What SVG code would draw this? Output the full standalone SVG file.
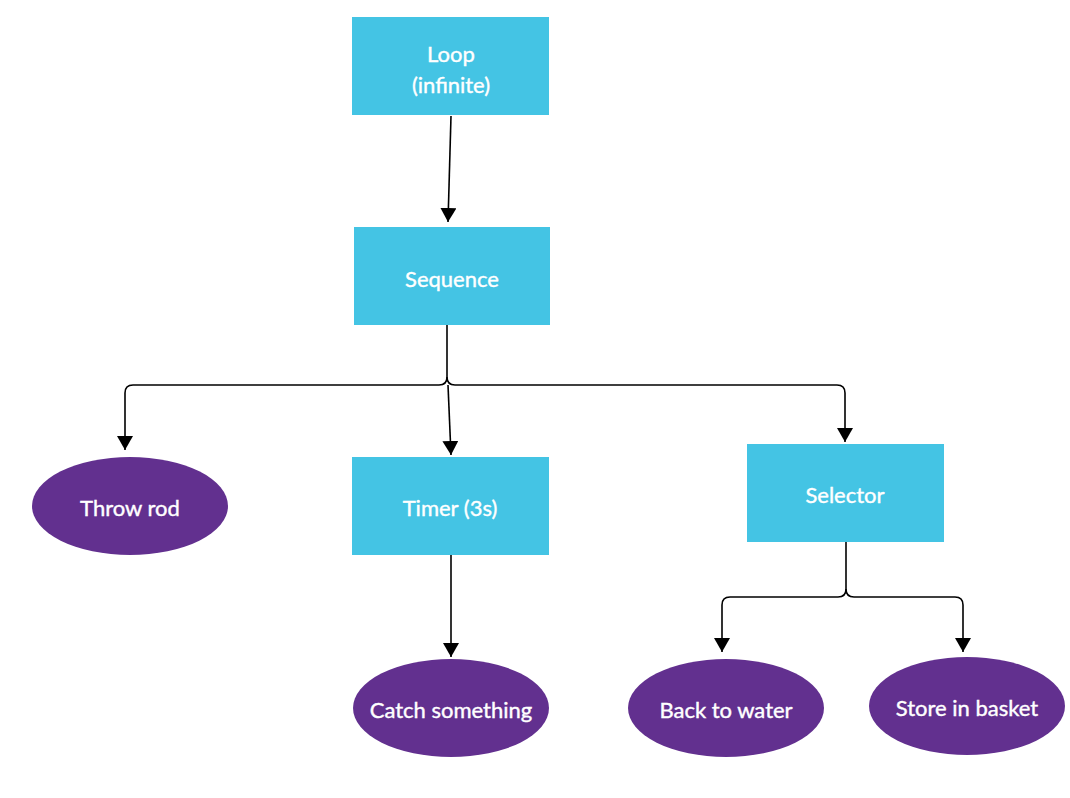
<svg xmlns="http://www.w3.org/2000/svg" width="1070" height="798" viewBox="0 0 1070 798">
<style>
.box{fill:#44c4e4}
.oval{fill:#62308f}
.t{font-family:Lato,"Open Sans",sans-serif;font-size:22px;fill:#ffffff;stroke:#ffffff;stroke-width:0.4;text-anchor:middle;dominant-baseline:central}
.c{fill:none;stroke:#000;stroke-width:1.6;marker-end:url(#ah)}
.n{fill:none;stroke:#000;stroke-width:1.6}
</style>
<defs>
<marker id="ah" markerUnits="userSpaceOnUse" markerWidth="16" markerHeight="16" viewBox="0 0 16 16" refX="14" refY="8" orient="auto">
<path d="M0,0 L14,8 L0,16 Z" fill="#000"/>
</marker>
</defs>
<rect width="1070" height="798" fill="#fff"/>
<g id="connectors">
<path class="c" d="M451,116 L448,222"/>
<path class="n" d="M447,321 L447,377"/>
<path class="c" d="M447,377 Q447,385 439,385 L133,385 Q125,385 125,393 L125,450"/>
<path class="c" d="M447,377 Q447,385 455,385 L837,385 Q845,385 845,393 L845,442"/>
<path class="c" d="M448,385 L451,455"/>
<path class="c" d="M451,555 L451,657"/>
<path class="n" d="M846,542 L846,589"/>
<path class="c" d="M846,589 Q846,597 838,597 L730,597 Q722,597 722,605 L722,652"/>
<path class="c" d="M846,589 Q846,597 854,597 L955,597 Q963,597 963,605 L963,652"/>
</g>
<g id="loop"><rect class="box" x="352" y="17" width="197" height="98"/><text class="t" x="451" y="53">Loop</text><text class="t" x="451" y="84">(infinite)</text></g>
<g id="sequence"><rect class="box" x="354" y="227" width="196" height="98"/><text class="t" x="452" y="278">Sequence</text></g>
<g id="throw-rod"><ellipse class="oval" cx="130" cy="506" rx="98" ry="49"/><text class="t" x="130" y="507">Throw rod</text></g>
<g id="timer"><rect class="box" x="352" y="457" width="197" height="98"/><text class="t" x="450" y="507">Timer (3s)</text></g>
<g id="selector"><rect class="box" x="747" y="444" width="197" height="98"/><text class="t" x="845" y="494">Selector</text></g>
<g id="catch"><ellipse class="oval" cx="451" cy="708" rx="98" ry="49"/><text class="t" x="451" y="709">Catch something</text></g>
<g id="back"><ellipse class="oval" cx="726" cy="708" rx="98" ry="49"/><text class="t" x="726" y="709">Back to water</text></g>
<g id="store"><ellipse class="oval" cx="967" cy="706" rx="98" ry="49"/><text class="t" x="967" y="707">Store in basket</text></g>
</svg>
